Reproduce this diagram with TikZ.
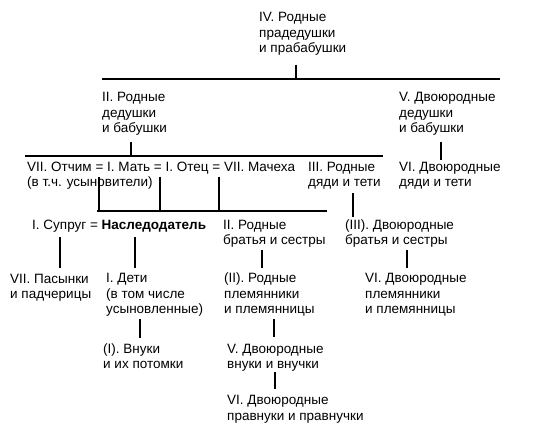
\documentclass[tikz,border=0pt]{standalone}
\usepackage{fontspec}
\setmainfont{Liberation Sans}
\tikzset{
  kin/.style={anchor=base west, inner sep=0pt, align=left,
    font=\fontsize{13.5}{15.5}\selectfont},
  link/.style={line width=2pt}
}
\begin{document}
\begin{tikzpicture}[x=1pt,y=-1pt]
  \useasboundingbox (0,0) rectangle (533,446);

  \node[kin] (iv) at (259,53) {IV. Родные\\прадедушки\\и прабабушки};
  \node[kin] (ii) at (102,133) {II. Родные\\дедушки\\и бабушки};
  \node[kin] (v) at (399,133) {V. Двоюродные\\дедушки\\и бабушки};

  \node[kin] (parents) at (27,187) {VII. Отчим = I. Мать = I. Отец = VII. Мачеха\\(в т.ч. усыновители)};
  \node[kin] (iii) at (308,187) {III. Родные\\дяди и тети};
  \node[kin] (vi) at (399,187) {VI. Двоюродные\\дяди и тети};

  \node[kin] (heir) at (32,230) {I. Супруг = \textbf{Наследодатель}};
  \node[kin] (sib) at (223,245) {II. Родные\\братья и сестры};
  \node[kin] (cous) at (345,245) {(III). Двоюродные\\братья и сестры};

  \node[kin] (stepch) at (10,299) {VII. Пасынки\\и падчерицы};
  \node[kin] (kids) at (106,314) {I. Дети\\(в том числе\\усыновленные)};
  \node[kin] (neph) at (224,314) {(II). Родные\\племянники\\и племянницы};
  \node[kin] (cneph) at (365,314) {VI. Двоюродные\\племянники\\и племянницы};

  \node[kin] (grand) at (103,369) {(I). Внуки\\и их потомки};
  \node[kin] (cgrand) at (227,369) {V. Двоюродные\\внуки и внучки};
  \node[kin] (cggrand) at (227,420) {VI. Двоюродные\\правнуки и правнучки};

  \coordinate (barA) at (102,79);
  \coordinate (barA') at (500,79);
  \coordinate (barB) at (25,156);
  \coordinate (barB') at (383,156);
  \coordinate (barC) at (97,211);
  \coordinate (barC') at (327,211);

  \draw[link] (barA) -- (barA');
  \draw[link] (barB) -- (barB');
  \draw[link] (barC) -- (barC');

  \draw[link, shorten <=9pt] (iv.south -| 296,0) -- (barA -| 296,0);
  \draw[link, shorten <=6pt] (ii.south -| 131,0) -- (barB -| 131,0);
  \draw[link, shorten <=6pt, shorten >=2pt] (v.south -| 441,0) -- (vi.north -| 441,0);

  \draw[link, shorten <=15pt] (parents.north -| 99,0) -- (barC -| 99,0);
  \draw[link, shorten <=15pt] (parents.north -| 160,0) -- (barC -| 160,0);
  \draw[link, shorten <=15pt] (parents.north -| 219,0) -- (barC -| 219,0);
  \draw[link, shorten <=3pt, shorten >=3pt] (iii.south -| 353,0) -- (cous.north -| 353,0);

  \draw[link, shorten <=4pt, shorten >=6pt] (heir.south -| 60,0) -- (stepch.north -| 60,0);
  \draw[link, shorten <=4pt, shorten >=6pt] (heir.south -| 135,0) -- (kids.north -| 135,0);
  \draw[link, shorten <=2pt, shorten >=5pt] (sib.south -| 262,0) -- (neph.north -| 262,0);
  \draw[link, shorten <=2pt, shorten >=6pt] (cous.south -| 407,0) -- (cneph.north -| 407,0);

  \draw[link, shorten <=2pt, shorten >=6pt] (kids.south -| 140,0) -- (grand.north -| 140,0);
  \draw[link, shorten <=2pt, shorten >=7pt] (neph.south -| 274,0) -- (cgrand.north -| 274,0);
  \draw[link, shorten >=6pt] (cgrand.south -| 275,0) -- (cggrand.north -| 275,0);
\end{tikzpicture}
\end{document}
